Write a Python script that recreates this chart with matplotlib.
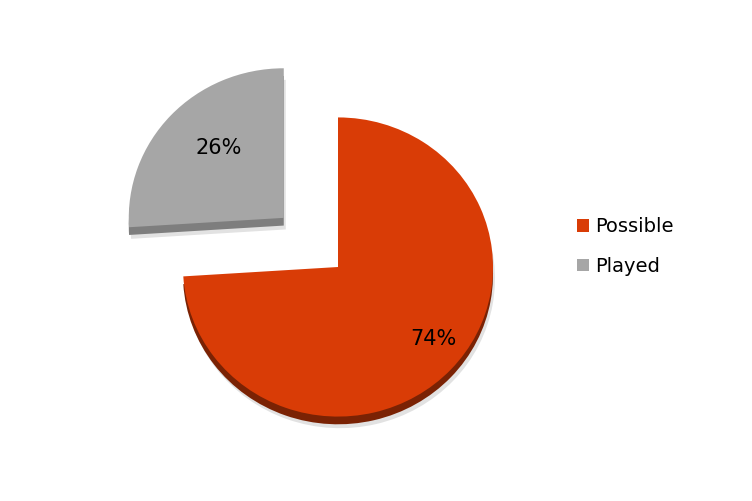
import numpy as np
import matplotlib.pyplot as plt
from matplotlib.patches import Patch

labels = ['Possible', 'Played']
values = [74, 26]
colors = ['#D93C06', '#A6A6A6']
side_colors = ['#7A2204', '#7E7E7E']
explode_frac = [0, 0.48]
label_dist = [0.78, 0.63]
label_turn = [5, -5]   # degrees off the wedge middle

fig = plt.figure(figsize=(7.52, 5.01), dpi=100)
ax = fig.add_axes([0, 0, 1, 1])

cx, cy = 338, (501 - 267) / 0.965
r = 155
explode = [e * r for e in explode_frac]

# soft shadow, then side (thickness), then top face
ax.pie(values, colors=['#E2E2E2', '#E2E2E2'], explode=explode, startangle=90,
       counterclock=False, center=(cx + 2, cy - 12), radius=r,
       wedgeprops=dict(linewidth=0))
ax.pie(values, colors=side_colors, explode=explode, startangle=90,
       counterclock=False, center=(cx, cy - 8), radius=r,
       wedgeprops=dict(linewidth=0))
wedges, texts, autotexts = ax.pie(values, colors=colors, explode=explode, startangle=90,
                                  counterclock=False, center=(cx, cy), radius=r,
                                  autopct='%1.0f%%', pctdistance=0.7,
                                  wedgeprops=dict(linewidth=0),
                                  textprops=dict(fontsize=15, color='black'))
for w, t, d, turn in zip(wedges, autotexts, label_dist, label_turn):
    ang = np.deg2rad((w.theta1 + w.theta2) / 2 + turn)
    wx, wy = w.center
    t.set_position((wx + d * r * np.cos(ang), wy + d * r * np.sin(ang)))

ax.set_xlim(0, 752)
ax.set_ylim(0, 501 / 0.965)
ax.set_aspect('auto')
ax.axis('off')

handles = [Patch(facecolor=c, edgecolor='none', label=l) for c, l in zip(colors, labels)]
fig.legend(handles=handles, loc='center left', bbox_to_anchor=(0.744, 0.508),
           frameon=False, fontsize=14, handlelength=0.6, handleheight=0.6,
           handletextpad=0.35, labelspacing=1.05)

fig.savefig('out.png', dpi=100)
